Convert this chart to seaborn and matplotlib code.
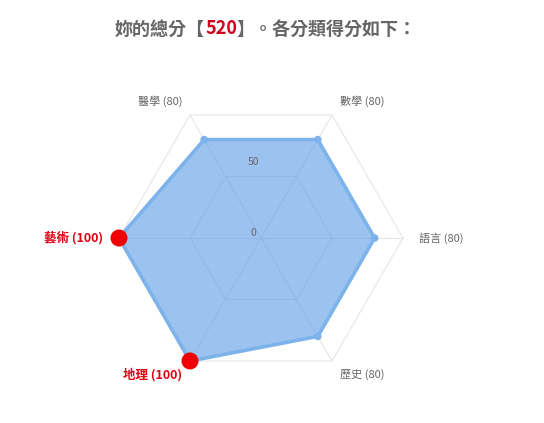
import numpy as np
import matplotlib
matplotlib.use("Agg")
import matplotlib.pyplot as plt
import seaborn as sns

# === データ ===
categories = ["語言", "數學", "醫學", "藝術", "地理", "歷史"]
scores = [80, 80, 80, 100, 100, 80]
total_score = 520
ring_ticks = [0, 50, 100]

sns.set_style("white")
plt.rcParams["font.family"] = ["Noto Sans CJK TC", "DejaVu Sans"]

GRAY = "#666666"
RED = "#E3000F"
GRID = "#E6E6E6"

n = len(categories)
angles = np.linspace(0, 2 * np.pi, n, endpoint=False)
closed = np.append(angles, angles[0])

fig = plt.figure(figsize=(5.44, 4.23), dpi=100)
# center (261, 238) px, radius 142 px
cx, cy, rad = 261 / 544, 1 - 238 / 423, 142
ax = fig.add_axes([cx - rad / 544, cy - rad / 423, 2 * rad / 544, 2 * rad / 423],
                  projection="polar")
ax.set_ylim(0, ring_ticks[-1])
ax.grid(False)
ax.spines["polar"].set_visible(False)
ax.set_xticks([])
ax.set_yticks([])
ax.patch.set_alpha(0)

# 六角形のグリッド
for r in ring_ticks[1:]:
    ax.plot(closed, [r] * len(closed), color=GRID, lw=0.8, zorder=1, clip_on=False)
for a in angles:
    ax.plot([a, a], [0, ring_ticks[-1]], color=GRID, lw=0.8, zorder=1, clip_on=False)

# データ多角形
vals = np.append(scores, scores[0])
ax.fill(closed, vals, color="#5B9BE6", alpha=0.6, zorder=2, lw=0, clip_on=False)
ax.plot(closed, vals, color="#7DB3EA", lw=2.6, zorder=3, solid_joinstyle="round",
        clip_on=False)

top = max(scores)
is_top = [s == top for s in scores]
sns.scatterplot(x=[a for a, t in zip(angles, is_top) if not t],
                y=[s for s, t in zip(scores, is_top) if not t],
                color="#7DB3EA", s=30, edgecolor="none", ax=ax, zorder=4, clip_on=False)
sns.scatterplot(x=[a for a, t in zip(angles, is_top) if t],
                y=[s for s, t in zip(scores, is_top) if t],
                color="#F00000", s=150, edgecolor="none", ax=ax, zorder=5, clip_on=False)
ax.set_ylim(0, ring_ticks[-1])

# 目盛りラベル
for r in ring_ticks[:-1]:
    ax.annotate(str(r), xy=(np.pi / 2, r), xytext=(-8, 5), textcoords="offset pixels",
                ha="center", va="center", fontsize=7.5, color=GRAY)

# 軸ラベル
pad = 16
for a, cat, s, t in zip(angles, categories, scores, is_top):
    c = np.cos(a)
    ha = "left" if c > 0.1 else ("right" if c < -0.1 else "center")
    ax.annotate(f"{cat} ({s})", xy=(a, ring_ticks[-1]),
                xytext=(pad * c, pad * np.sin(a)), textcoords="offset pixels",
                ha=ha, va="center",
                fontsize=9 if t else 8,
                fontweight="bold" if t else "normal",
                color=RED if t else GRAY, annotation_clip=False)

# タイトル（520だけ赤）
t1 = fig.text(115 / 544, 1 - 29 / 423, "妳的總分【", fontsize=13, fontweight="bold",
              color=GRAY, ha="left", va="center")
t2 = fig.text(0, 0, str(total_score), fontsize=13, fontweight="bold", color="#D0021B")
t3 = fig.text(0, 0, "】。各分類得分如下：", fontsize=13, fontweight="bold", color=GRAY)
fig.canvas.draw()
renderer = fig.canvas.get_renderer()
inv = fig.transFigure.inverted()
bb1 = t1.get_window_extent(renderer)
x2 = inv.transform((bb1.x1, 0))[0]
t2.set_position((x2, 1 - 29 / 423))
t2.set_va("center")
bb2 = t2.get_window_extent(renderer)
x3 = inv.transform((bb2.x1, 0))[0]
t3.set_position((x3, 1 - 29 / 423))
t3.set_va("center")

fig.savefig("out.png", dpi=100)
